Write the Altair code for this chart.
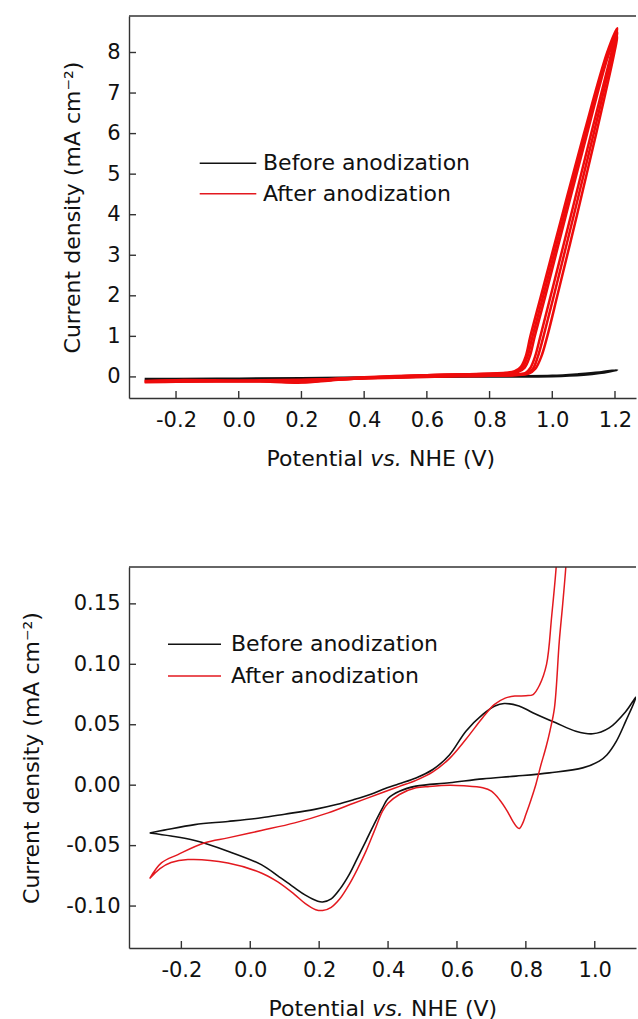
import altair as alt
import pandas as pd

FONT = "DejaVu Sans"
AXIS_COLOR = "#333333"
INK = "#111111"
BLACK = "#111111"
RED_TOP = "#ee0b0b"
RED_BOTTOM = "#e3191f"

SERIES = ["Before anodization", "After anodization"]
Y_TITLE = "Current density (mA cm\u207b\u00b2)"
X_TITLE_PARTS = ["Potential", "vs.", "NHE (V)"]

PANEL_W = 507

# ---------------- upper panel: full potential window ----------------
TOP_H = 382
TOP_X_TICKS = [-0.2, 0.0, 0.2, 0.4, 0.6, 0.8, 1.0, 1.2]
TOP_Y_TICKS = [0, 1, 2, 3, 4, 5, 6, 7, 8]
TOP_X_DOMAIN = [-0.35, 1.267]
TOP_Y_DOMAIN = [-0.52, 8.9]

top_before_v = [-0.30, -0.20, 0.00, 0.20, 0.40, 0.60, 0.80, 0.90, 1.00, 1.08, 1.15, 1.207,
                1.15, 1.10, 1.00, 0.80, 0.60, 0.40, 0.20, 0.00, -0.20, -0.30]
top_before_j = [-0.05, -0.045, -0.04, -0.03, -0.01, 0.01, 0.02, 0.02, 0.03, 0.066, 0.11, 0.17,
                0.09, 0.05, 0.015, 0.008, 0.0, -0.02, -0.09, -0.07, -0.05, -0.05]

top_after_c1_v = [-0.30, -0.20, 0.00, 0.20, 0.30, 0.40, 0.50, 0.60, 0.70, 0.80, 0.85,
                  0.880, 0.900, 0.915, 0.930, 0.964, 1.032, 1.101, 1.175, 1.207,
                  1.189, 1.124, 1.060, 0.995, 0.962, 0.945, 0.930, 0.915, 0.88,
                  0.80, 0.70, 0.60, 0.50, 0.40, 0.30, 0.20, 0.10, 0.00, -0.20, -0.30]
top_after_c1_j = [-0.13, -0.12, -0.11, -0.09, -0.06, -0.02, 0.01, 0.04, 0.06, 0.08, 0.10,
                  0.14, 0.25, 0.50, 1.00, 2.00, 4.00, 6.00, 8.00, 8.60,
                  8.00, 6.00, 4.00, 2.00, 1.00, 0.50, 0.22, 0.10, 0.06,
                  0.03, 0.02, 0.01, -0.01, -0.03, -0.08, -0.14, -0.12, -0.11, -0.10, -0.12]

top_after_c2_v = [-0.30, -0.20, 0.00, 0.20, 0.30, 0.40, 0.50, 0.60, 0.70, 0.80, 0.85,
                  0.885, 0.905, 0.921, 0.937, 0.971, 1.038, 1.106, 1.178, 1.207,
                  1.193, 1.132, 1.069, 1.005, 0.972, 0.954, 0.938, 0.920, 0.88,
                  0.80, 0.70, 0.60, 0.50, 0.40, 0.30, 0.20, 0.10, 0.00, -0.20, -0.30]
top_after_c2_j = [-0.12, -0.11, -0.10, -0.08, -0.05, -0.02, 0.01, 0.04, 0.06, 0.08, 0.09,
                  0.13, 0.24, 0.50, 1.00, 2.00, 4.00, 6.00, 8.00, 8.50,
                  8.00, 6.00, 4.00, 2.00, 1.00, 0.50, 0.20, 0.09, 0.05,
                  0.03, 0.02, 0.01, -0.01, -0.03, -0.07, -0.13, -0.11, -0.10, -0.09, -0.11]

top_after_c3_v = [-0.30, -0.20, 0.00, 0.20, 0.30, 0.40, 0.50, 0.60, 0.70, 0.80, 0.85,
                  0.890, 0.912, 0.928, 0.944, 0.978, 1.044, 1.111, 1.182, 1.207,
                  1.198, 1.140, 1.079, 1.016, 0.984, 0.965, 0.946, 0.925, 0.88,
                  0.80, 0.70, 0.60, 0.50, 0.40, 0.30, 0.20, 0.10, 0.00, -0.20, -0.30]
top_after_c3_j = [-0.11, -0.10, -0.09, -0.07, -0.05, -0.01, 0.02, 0.04, 0.06, 0.07, 0.08,
                  0.12, 0.23, 0.50, 1.00, 2.00, 4.00, 6.00, 8.00, 8.40,
                  8.00, 6.00, 4.00, 2.00, 1.00, 0.50, 0.20, 0.08, 0.04,
                  0.03, 0.02, 0.00, -0.02, -0.04, -0.07, -0.12, -0.10, -0.09, -0.08, -0.10]

# ---------------- lower panel: first cycle, magnified ----------------
BOT_H = 381
BOT_X_TICKS = [-0.2, 0.0, 0.2, 0.4, 0.6, 0.8, 1.0]
BOT_Y_TICKS = [-0.10, -0.05, 0.0, 0.05, 0.10, 0.15]
BOT_X_DOMAIN = [-0.352, 1.1197]
BOT_Y_DOMAIN = [-0.1347, 0.1805]

bot_before_v = [-0.292, -0.25, -0.161, -0.065, 0.032, 0.10, 0.187, 0.25, 0.30, 0.35, 0.384,
                0.43, 0.481, 0.53, 0.578, 0.626, 0.675, 0.71, 0.737, 0.78, 0.82, 0.887,
                0.945, 0.994, 1.042, 1.09, 1.12,
                1.09, 1.062, 1.035, 1.013, 0.965, 0.868, 0.771, 0.675, 0.578, 0.481,
                0.433, 0.40, 0.384, 0.36, 0.336, 0.31, 0.287, 0.26, 0.235, 0.21, 0.196,
                0.16, 0.129, 0.08, 0.032, -0.065, -0.161, -0.23, -0.292]
bot_before_j = [-0.0395, -0.0372, -0.0326, -0.0300, -0.0270, -0.0240, -0.0200, -0.0160,
                -0.0120, -0.0075, -0.0036, 0.0010, 0.0060, 0.0130, 0.0250, 0.0447, 0.0585,
                0.0655, 0.0676, 0.0655, 0.0600, 0.0516, 0.0447, 0.0425, 0.0474, 0.0610,
                0.0730,
                0.0530, 0.0360, 0.0250, 0.0199, 0.0143, 0.0102, 0.0075, 0.0052, 0.0020,
                -0.0008, -0.0050, -0.0110, -0.0188, -0.0320, -0.0460, -0.0610, -0.0740,
                -0.0860, -0.0940, -0.0966, -0.0960, -0.0910, -0.0850, -0.0750, -0.0657,
                -0.0546, -0.0458, -0.0420, -0.0395]

bot_after_v = [-0.292, -0.258, -0.21, -0.132, -0.065, 0.032, 0.129, 0.226, 0.30, 0.384,
               0.433, 0.481, 0.53, 0.578, 0.626, 0.675, 0.709, 0.74, 0.768, 0.80, 0.821,
               0.84, 0.86, 0.875, 0.888, 0.894,
               0.922, 0.916, 0.907, 0.897, 0.883, 0.870, 0.858, 0.843, 0.829, 0.815, 0.80,
               0.79, 0.781, 0.772, 0.762, 0.745, 0.723, 0.70, 0.675, 0.62, 0.578, 0.52,
               0.481, 0.433, 0.40, 0.384, 0.36, 0.336, 0.31, 0.287, 0.26, 0.235, 0.21,
               0.19, 0.16, 0.129, 0.08, 0.032, -0.065, -0.181, -0.23, -0.262, -0.292]
bot_after_j = [-0.0773, -0.0643, -0.0574, -0.0477, -0.0436, -0.0375, -0.0312, -0.0229,
               -0.0150, -0.0060, -0.0010, 0.0040, 0.0110, 0.0220, 0.0380, 0.0560, 0.0668,
               0.0720, 0.0737, 0.0740, 0.0750, 0.0830, 0.0999, 0.1400, 0.1805, 0.2100,
               0.2100, 0.1805, 0.1500, 0.1190, 0.0640, 0.0450, 0.0310, 0.0160, 0.0006,
               -0.0120, -0.0243, -0.0320, -0.0359, -0.0340, -0.0298, -0.0210, -0.0118,
               -0.0050, -0.0022, -0.0005, 0.0000, -0.0010, -0.0022, -0.0077, -0.0150,
               -0.0215, -0.0380, -0.0546, -0.0700, -0.0822, -0.0940, -0.1010, -0.1037,
               -0.1030, -0.0980, -0.0905, -0.0800, -0.0726, -0.0643, -0.0615, -0.0640,
               -0.0690, -0.0773]


def scan_frame(v, j, seg):
    return pd.DataFrame({"V": v, "j": j, "seg": seg, "k": list(range(len(v)))})


def signed(fmt):
    return f"(datum.value < 0 ? '-' : '') + format(abs(datum.value), '{fmt}')"


def build_panel(h, xdom, ydom, xticks, yticks, xfmt, yfmt, scans, legend, title_x):
    xs = alt.Scale(domain=xdom, nice=False, zero=False)
    ys = alt.Scale(domain=ydom, nice=False, zero=False)
    x_enc = alt.X(
        "V:Q", scale=xs,
        axis=alt.Axis(values=xticks, labelExpr=signed(xfmt), ticks=False, tickSize=0,
                      grid=False, domainColor=AXIS_COLOR, domainWidth=1.4,
                      labelFont=FONT, labelFontSize=21, labelColor=INK, labelPadding=11,
                      labelFlush=False, labelOverlap=False, title=None))
    y_enc = alt.Y(
        "j:Q", scale=ys,
        axis=alt.Axis(values=yticks, labelExpr=signed(yfmt), ticks=False, tickSize=0,
                      grid=False, domainColor=AXIS_COLOR, domainWidth=1.4,
                      labelFont=FONT, labelFontSize=21, labelColor=INK, labelPadding=9,
                      labelFlush=False, labelOverlap=False, title=Y_TITLE,
                      titleFont=FONT, titleFontSize=22, titleFontWeight="normal",
                      titleColor=INK, titlePadding=22))

    layers = []
    for df, color, width in scans:
        layers.append(
            alt.Chart(df).mark_line(clip=True, color=color, strokeWidth=width,
                                    strokeJoin="round", interpolate="catmull-rom")
            .encode(x=x_enc, y=y_enc, detail="seg:N", order="k:Q"))

    # inward tick marks
    layers.append(
        alt.Chart(pd.DataFrame({"V": xticks})).mark_rule(color=AXIS_COLOR, strokeWidth=1.4)
        .encode(x=x_enc, y=alt.value(h), y2=alt.value(h - 7)))
    layers.append(
        alt.Chart(pd.DataFrame({"j": yticks})).mark_rule(color=AXIS_COLOR, strokeWidth=1.4)
        .encode(y=y_enc, x=alt.value(0), x2=alt.value(7)))

    # top frame line
    layers.append(
        alt.Chart(pd.DataFrame({"edge": ["top"]})).mark_rule(color=AXIS_COLOR, strokeWidth=1.4)
        .encode(x=alt.value(0), x2=alt.value(PANEL_W), y=alt.value(0)))

    # legend drawn inside the plot
    (lx0, lx1, tx, rows) = legend
    for label, color, ly in zip(SERIES, [BLACK, RED_BOTTOM], rows):
        src = pd.DataFrame({"label": [label]})
        layers.append(
            alt.Chart(src).mark_rule(color=color, strokeWidth=1.5)
            .encode(x=alt.value(lx0), x2=alt.value(lx1), y=alt.value(ly)))
        layers.append(
            alt.Chart(src).mark_text(align="left", baseline="middle", font=FONT,
                                     fontSize=22, color=INK)
            .encode(x=alt.value(tx), y=alt.value(ly), text="label:N"))

    # x-axis title with italic "vs."
    base_y = h + 68
    parts = [(X_TITLE_PARTS[0], "right", "normal", title_x - 23),
             (X_TITLE_PARTS[1], "center", "italic", title_x),
             (X_TITLE_PARTS[2], "left", "normal", title_x + 23)]
    for txt, align, style, px in parts:
        layers.append(
            alt.Chart(pd.DataFrame({"t": [txt]}))
            .mark_text(align=align, baseline="alphabetic", font=FONT, fontSize=22,
                       fontStyle=style, color=INK)
            .encode(x=alt.value(px), y=alt.value(base_y), text="t:N"))

    return alt.layer(*layers).properties(width=PANEL_W, height=h)


top_scans = [
    (scan_frame(top_before_v, top_before_j, "before"), BLACK, 2.2),
    (scan_frame(top_after_c1_v, top_after_c1_j, "c1"), RED_TOP, 2.5),
    (scan_frame(top_after_c2_v, top_after_c2_j, "c2"), RED_TOP, 2.5),
    (scan_frame(top_after_c3_v, top_after_c3_j, "c3"), RED_TOP, 2.5),
]
bottom_scans = [
    (scan_frame(bot_before_v, bot_before_j, "before"), BLACK, 1.6),
    (scan_frame(bot_after_v, bot_after_j, "after"), RED_BOTTOM, 1.5),
]

top = build_panel(TOP_H, TOP_X_DOMAIN, TOP_Y_DOMAIN, TOP_X_TICKS, TOP_Y_TICKS, ".1f", "d",
                  top_scans, (70.7, 127.3, 134, [147.3, 177.7]), 257)
bottom = build_panel(BOT_H, BOT_X_DOMAIN, BOT_Y_DOMAIN, BOT_X_TICKS, BOT_Y_TICKS, ".1f", ".2f",
                     bottom_scans, (39, 92, 102, [77.3, 109]), 259)

chart = (
    alt.vconcat(top, bottom, spacing=169, bounds="flush")
    .properties(padding={"left": 20, "top": 14, "right": 0, "bottom": 0},
                background="white")
    .configure_view(stroke="transparent")
)

chart.save("out.html", embed_options={"renderer": "svg", "actions": False})
